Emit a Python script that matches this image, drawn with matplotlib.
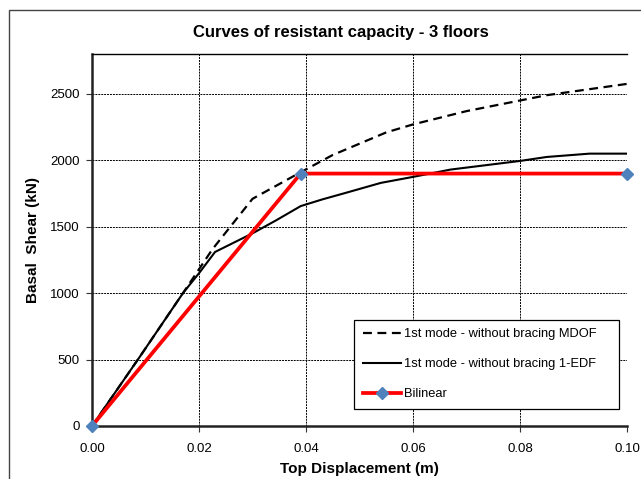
import matplotlib.pyplot as plt
from matplotlib.patches import Rectangle

plt.rcParams['font.family'] = ['Liberation Sans', 'DejaVu Sans']

# Curve data
mdof_x = [0, 0.009, 0.017, 0.0225, 0.030, 0.039, 0.045, 0.055, 0.060, 0.070, 0.085, 0.100]
mdof_y = [0, 525, 1000, 1330, 1710, 1910, 2040, 2210, 2270, 2370, 2490, 2575]

edf_x = [0, 0.009, 0.017, 0.020, 0.023, 0.030, 0.0345, 0.039, 0.043, 0.047, 0.054,
         0.060, 0.067, 0.080, 0.085, 0.093, 0.100]
edf_y = [0, 525, 1000, 1150, 1310, 1450, 1550, 1655, 1705, 1750, 1830,
         1875, 1930, 1995, 2025, 2050, 2050]

bil_x = [0, 0.039, 0.100]
bil_y = [0, 1900, 1900]

xticks = [0.00, 0.02, 0.04, 0.06, 0.08, 0.10]
yticks = [0, 500, 1000, 1500, 2000, 2500]

fig = plt.figure(figsize=(6.41, 4.79), dpi=100)
ax = fig.add_axes([92 / 641, 1 - 426 / 479, 535 / 641, 372 / 479])

ax.plot(mdof_x, mdof_y, color='black', lw=1.6, linestyle=(0, (4, 2.5)),
        label='1st mode - without bracing MDOF', zorder=3)
ax.plot(edf_x, edf_y, color='black', lw=1.5,
        label='1st mode - without bracing 1-EDF', zorder=3)
ax.plot(bil_x, bil_y, color='#ff0000', lw=2.7, marker='D', markersize=6,
        markerfacecolor='#4f81bd', markeredgecolor='#4f81bd',
        label='Bilinear', zorder=4, clip_on=False)

ax.set_xlim(0, 0.1)
ax.set_ylim(0, 2800)
ax.set_xticks(xticks)
ax.set_xticklabels(['%.2f' % v for v in xticks])
ax.set_yticks(yticks)
ax.tick_params(labelsize=9.5, length=4, width=0.8, color='#333333', pad=5)
ax.tick_params(axis='x', pad=8)
ax.grid(True, color='black', linestyle=(0, (2, 1)), lw=0.7)

for side in ['left', 'bottom']:
    ax.spines[side].set_linewidth(1.8)
    ax.spines[side].set_color('#222222')
ax.spines['top'].set_linewidth(1.0)
ax.spines['right'].set_visible(False)

ax.set_xlabel('Top Displacement (m)', fontsize=11, fontweight='bold', labelpad=5)
ax.set_ylabel('Basal  Shear (kN)', fontsize=11, fontweight='bold', labelpad=7)
fig.text(341 / 641, 1 - 33 / 479, 'Curves of resistant capacity - 3 floors',
         ha='center', va='center', fontsize=12, fontweight='bold')

leg = ax.legend(loc='lower left', bbox_to_anchor=(0.49, 0.046, 0.495, 0.228),
                mode='expand', fontsize=9.3, handlelength=3.0, labelspacing=1.4,
                borderpad=0.65, handletextpad=0.2, borderaxespad=0,
                fancybox=False, edgecolor='black', framealpha=1)
leg.get_frame().set_linewidth(0.9)

# outer chart border
fig.patches.append(Rectangle((9 / 641, -0.1), 1.2, 1 - 10 / 479 + 0.1,
                             transform=fig.transFigure, fill=False,
                             edgecolor='#444444', lw=1.0))

plt.savefig('out.png', dpi=100)
